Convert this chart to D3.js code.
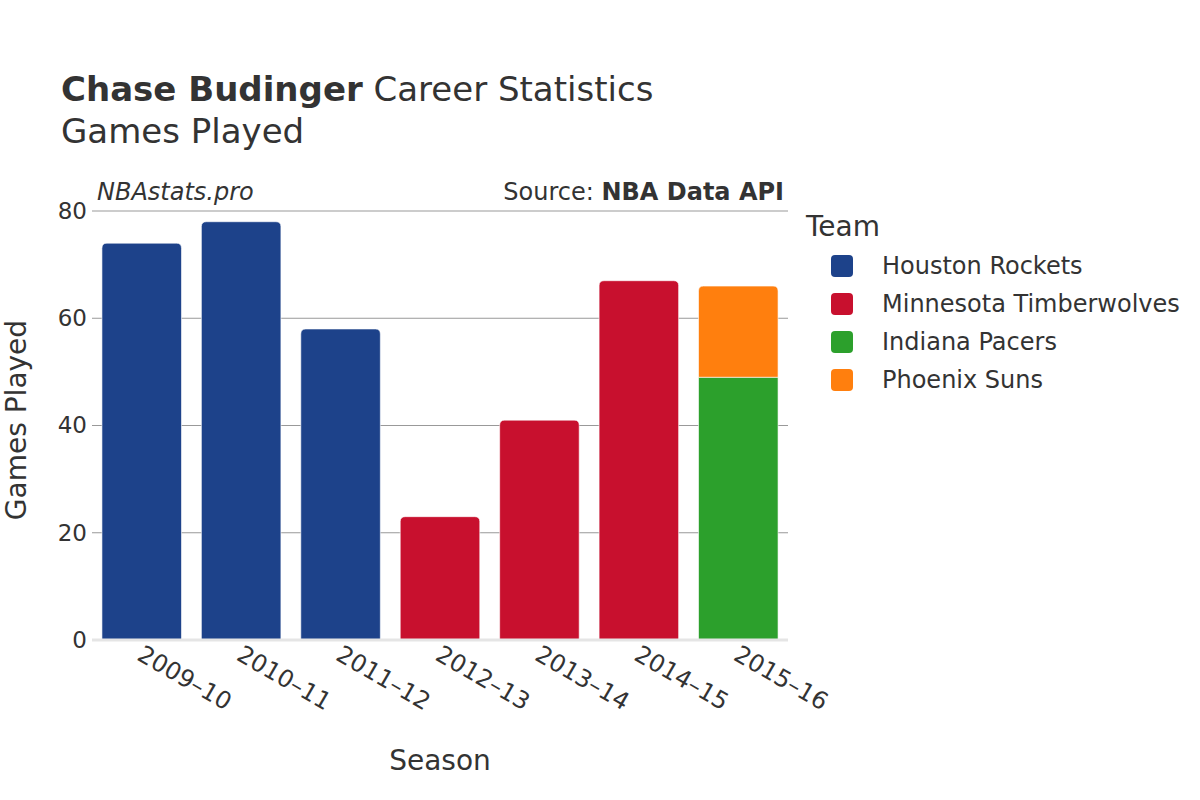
<!DOCTYPE html>
<html>
<head>
<meta charset="utf-8">
<script src="https://cdn.jsdelivr.net/npm/d3@7"></script>
<style>
  body { margin: 0; background: #fff; }
  svg { font-family: "DejaVu Sans", sans-serif; }
</style>
</head>
<body>
<div id="chart"></div>
<script>
// data
const seasons = ["2009–10", "2010–11", "2011–12", "2012–13", "2013–14", "2014–15", "2015–16"];
const teams = ["Houston Rockets", "Minnesota Timberwolves", "Indiana Pacers", "Phoenix Suns"];
const teamColors = ["#1d428a", "#c8102e", "#2ca02c", "#ff7f0e"];
const houstonGames = [74, 78, 58, 0, 0, 0, 0];
const minnesotaGames = [0, 0, 0, 23, 41, 67, 0];
const indianaGames = [0, 0, 0, 0, 0, 0, 49];
const phoenixGames = [0, 0, 0, 0, 0, 0, 17];
const yTicks = [0, 20, 40, 60, 80];

const seriesValues = [houstonGames, minnesotaGames, indianaGames, phoenixGames];

const width = 1200, height = 800;
const margin = { top: 211, right: 412, bottom: 160, left: 92 };
const innerW = width - margin.left - margin.right;
const innerH = height - margin.top - margin.bottom;

const svg = d3.select("#chart").append("svg")
    .attr("width", width)
    .attr("height", height);

// titles
const title = svg.append("text")
    .attr("x", 61).attr("y", 101)
    .style("font-size", "34px")
    .attr("fill", "#333");
title.append("tspan").style("font-weight", "bold").text("Chase Budinger");
title.append("tspan").text(" Career Statistics");

svg.append("text")
    .attr("x", 61).attr("y", 143)
    .style("font-size", "34px")
    .attr("fill", "#333")
    .text("Games Played");

const g = svg.append("g").attr("transform", `translate(${margin.left},${margin.top})`);

const x = d3.scaleBand().domain(seasons).range([0, innerW]).paddingInner(0.2).paddingOuter(0.1);
const y = d3.scaleLinear().domain([0, 80]).range([innerH, 0]);

// grid
g.append("g")
    .selectAll("line")
    .data(yTicks.filter(d => d > 0))
    .enter().append("line")
    .attr("x1", 0).attr("x2", innerW)
    .attr("y1", d => y(d)).attr("y2", d => y(d))
    .attr("stroke", "#999").attr("stroke-width", 1);

// stacked bars
const rows = seasons.map((s, i) => {
    const r = { season: s };
    teams.forEach((t, k) => { r[t] = seriesValues[k][i]; });
    return r;
});
const stacked = d3.stack().keys(teams)(rows);

function barPath(x0, y0, w, y1, r) {
    // rounded top corners only
    const h = y1 - y0;
    r = Math.min(r, h / 2, w / 2);
    return `M${x0},${y1}V${y0 + r}Q${x0},${y0} ${x0 + r},${y0}H${x0 + w - r}Q${x0 + w},${y0} ${x0 + w},${y0 + r}V${y1}Z`;
}

stacked.forEach((layer, k) => {
    g.append("g")
        .selectAll("path")
        .data(layer.filter(d => d[1] - d[0] > 0))
        .enter().append("path")
        .attr("d", d => {
            const isTop = stacked.slice(k + 1).every(l => {
                const v = l.find(e => e.data.season === d.data.season);
                return v[1] - v[0] === 0;
            });
            const x0 = x(d.data.season), w = x.bandwidth();
            if (isTop) return barPath(x0, y(d[1]), w, y(d[0]), 5);
            return `M${x0},${y(d[0])}V${y(d[1])}H${x0 + w}V${y(d[0])}Z`;
        })
        .attr("fill", teamColors[k])
        .attr("stroke", "#fff")
        .attr("stroke-width", 0.6);
});

// zero line
g.append("line")
    .attr("x1", 0).attr("x2", innerW)
    .attr("y1", y(0)).attr("y2", y(0))
    .attr("stroke", "#e5e5e5").attr("stroke-width", 3);

// y axis
const yAxis = g.append("g")
    .call(d3.axisLeft(y).tickValues(yTicks).tickSize(0).tickPadding(5));
yAxis.select(".domain").remove();
yAxis.selectAll("text")
    .style("font-size", "23px")
    .attr("fill", "#333")
    .style("font-family", "DejaVu Sans, sans-serif");

// x axis
const xAxis = g.append("g")
    .attr("transform", `translate(0,${innerH})`)
    .call(d3.axisBottom(x).tickSize(0).tickPadding(0));
xAxis.select(".domain").remove();
xAxis.selectAll("text")
    .style("font-size", "24px")
    .attr("fill", "#333")
    .style("font-family", "DejaVu Sans, sans-serif")
    .attr("text-anchor", "start")
    .attr("dy", null)
    .attr("y", 0)
    .attr("transform", "translate(-6,19) rotate(30)");

// axis titles
svg.append("text")
    .attr("transform", "translate(26,420) rotate(-90)")
    .attr("text-anchor", "middle")
    .style("font-size", "28px")
    .attr("fill", "#333")
    .text("Games Played");

svg.append("text")
    .attr("x", 440).attr("y", 770)
    .attr("text-anchor", "middle")
    .style("font-size", "28px")
    .attr("fill", "#333")
    .text("Season");

// annotations
svg.append("text")
    .attr("x", 97).attr("y", 200)
    .style("font-size", "24px")
    .style("font-style", "italic")
    .attr("fill", "#333")
    .text("NBAstats.pro");

const src = svg.append("text")
    .attr("x", 784).attr("y", 200)
    .attr("text-anchor", "end")
    .style("font-size", "24px")
    .attr("fill", "#333");
src.append("tspan").text("Source: ");
src.append("tspan").style("font-weight", "bold").text("NBA Data API");

// legend
const legend = svg.append("g").attr("transform", "translate(806,0)");
legend.append("text")
    .attr("x", 0).attr("y", 236)
    .style("font-size", "28px")
    .attr("fill", "#333")
    .text("Team");

const items = legend.selectAll("g.item")
    .data(teams)
    .enter().append("g")
    .attr("class", "item")
    .attr("transform", (d, i) => `translate(0,${266 + i * 38})`);
items.append("rect")
    .attr("x", 25).attr("y", -11)
    .attr("width", 22).attr("height", 22)
    .attr("rx", 4)
    .attr("fill", (d, i) => teamColors[i]);
items.append("text")
    .attr("x", 76).attr("y", 8)
    .style("font-size", "24px")
    .attr("fill", "#333")
    .text(d => d);
</script>
</body>
</html>
